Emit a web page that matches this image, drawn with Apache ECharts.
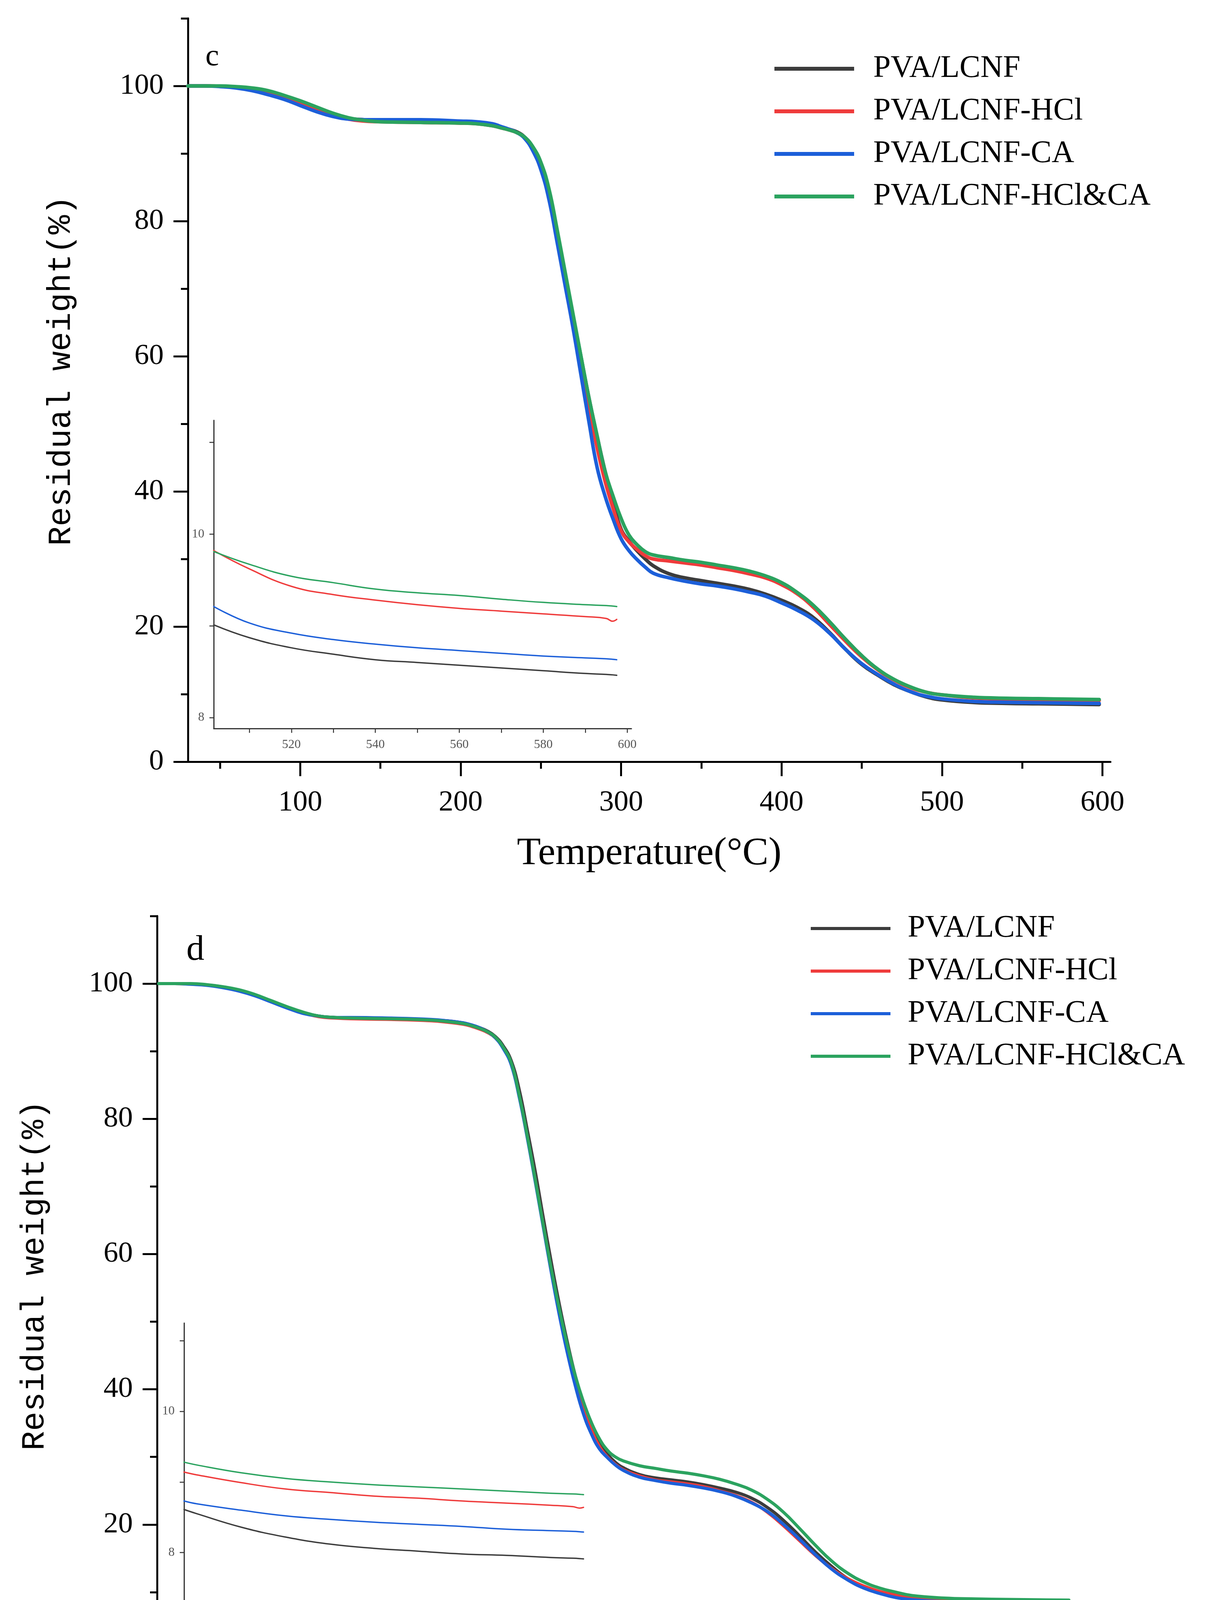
<!DOCTYPE html>
<html><head><meta charset="utf-8">
<script src="https://cdn.jsdelivr.net/npm/echarts@6/dist/echarts.min.js"></script>
<style>html,body{margin:0;padding:0;background:#fff}#c{width:3084px;height:4579px}</style>
</head><body><div id="c"></div>
<script>
const seriesNames = ['PVA/LCNF', 'PVA/LCNF-HCl', 'PVA/LCNF-CA', 'PVA/LCNF-HCl&CA'];
const colors = ['#3c3c3c', '#ef3b3b', '#1c5fd9', '#2ba35f'];

const temps = [30,40,50,60,70,80,90,100,110,120,130,140,150,175,200,210,220,225,230,235,240,245,250,255,260,265,270,275,280,285,290,295,300,305,310,315,320,330,340,350,360,370,380,390,400,410,420,430,440,450,460,470,480,490,500,520,540,560,580,598];

const cBlack = [100,100,99.95,99.8,99.5,99.0,98.3,97.5,96.6,95.8,95.2,95.0,94.9,94.8,94.6,94.5,94.2,93.9,93.6,93.2,92.4,90.9,88.5,84.4,78.4,72.2,66.0,59.9,53.8,48.2,43.0,38.3,34.4,32.6,31.2,30.0,29.0,27.8,27.2,26.8,26.4,26.0,25.5,24.8,23.9,22.8,21.3,19.1,16.6,14.4,12.8,11.4,10.4,9.6,9.15,8.76,8.63,8.57,8.51,8.46];
const cRed = [100,100,99.95,99.8,99.5,99.0,98.3,97.5,96.6,95.8,95.1,94.8,94.7,94.6,94.5,94.4,94.1,93.8,93.5,93.1,92.3,90.7,88.2,84.0,78.0,71.7,65.3,58.9,52.5,46.5,41.5,37.5,34.2,32.5,31.4,30.5,30.0,29.7,29.4,29.1,28.7,28.3,27.8,27.2,26.2,24.8,22.8,20.3,17.8,15.5,13.6,12.1,11.0,10.3,9.9,9.43,9.28,9.19,9.13,9.07];
const cBlue = [100,100,99.9,99.7,99.3,98.7,98.0,97.1,96.2,95.5,95.1,95.0,95.0,95.0,94.8,94.7,94.4,94.0,93.6,93.1,92.2,90.4,87.6,83.2,77.0,70.6,64.2,57.2,50.2,43.6,39.3,35.9,33.0,31.2,29.9,28.8,27.9,27.2,26.7,26.3,26.0,25.6,25.1,24.5,23.5,22.4,21.0,19.0,16.6,14.5,12.9,11.5,10.4,9.7,9.3,8.92,8.80,8.73,8.67,8.63];
const cGreen = [100,100,100,99.9,99.7,99.3,98.6,97.8,96.9,96.0,95.3,94.9,94.7,94.6,94.5,94.4,94.1,93.8,93.5,93.1,92.4,91.0,88.7,84.8,78.9,72.6,66.3,60.0,53.8,48.3,43.0,39.3,36.0,33.5,32.1,31.1,30.6,30.2,29.8,29.5,29.1,28.7,28.2,27.5,26.5,25.0,23.1,20.7,18.1,15.7,13.7,12.2,11.1,10.3,9.9,9.54,9.40,9.33,9.26,9.21];

const dBlack = [100,100,99.95,99.8,99.5,99.0,98.3,97.4,96.5,95.7,95.2,95.0,94.9,94.8,94.6,94.5,94.2,93.9,93.5,93.0,92.2,90.8,88.6,84.3,78.4,72.2,65.4,58.8,52.6,47.0,42.0,37.8,34.5,32.0,30.4,29.2,28.4,27.4,26.9,26.6,26.3,25.9,25.4,24.8,23.9,22.5,20.6,18.3,15.9,13.8,12.0,10.8,9.9,9.3,8.9,8.36,8.12,8.02,7.96,7.91];
const dRed = [100,100,99.95,99.8,99.5,99.0,98.3,97.4,96.5,95.7,95.1,94.9,94.8,94.7,94.5,94.3,94.0,93.7,93.3,92.8,92.0,90.5,88.2,83.4,77.4,71.0,64.3,57.7,51.6,46.1,41.2,37.2,34.0,31.6,30.0,28.9,28.1,27.2,26.6,26.3,26.0,25.6,25.0,24.3,23.3,21.8,19.8,17.6,15.4,13.5,12.0,10.9,10.1,9.6,9.3,8.99,8.85,8.77,8.70,8.64];
const dBlue = [100,100,99.9,99.75,99.4,98.9,98.2,97.3,96.4,95.6,95.2,95.0,95.0,94.9,94.7,94.5,94.2,93.9,93.5,92.9,92.0,90.4,88.0,83.2,77.2,70.7,64.0,57.3,51.0,45.4,40.5,36.4,33.4,31.2,29.9,28.8,28.0,27.0,26.5,26.1,25.8,25.4,24.9,24.2,23.2,21.9,20.0,17.8,15.5,13.4,11.8,10.6,9.8,9.2,8.9,8.60,8.47,8.40,8.33,8.29];
const dGreen = [100,100,100,99.85,99.55,99.1,98.4,97.5,96.6,95.8,95.2,95.0,94.9,94.8,94.6,94.4,94.1,93.8,93.4,92.9,92.1,90.6,88.3,83.5,77.5,71.0,64.3,57.8,51.9,46.6,42.0,38.2,35.1,32.7,31.0,30.0,29.4,28.7,28.3,27.9,27.6,27.2,26.7,26.0,25.1,23.7,21.8,19.4,16.9,14.6,12.8,11.5,10.6,10.0,9.5,9.13,9.00,8.93,8.87,8.82];

const insetTempsC = [501.5,510,520,530,540,550,560,570,580,590,595,596.5,597.5];
const insetCBlack = [9.01,8.87,8.76,8.69,8.63,8.60,8.57,8.54,8.51,8.48,8.47,8.465,8.46];
const insetCRed   = [9.82,9.62,9.43,9.34,9.28,9.23,9.19,9.16,9.13,9.10,9.08,9.05,9.07];
const insetCBlue  = [9.21,9.03,8.92,8.85,8.80,8.76,8.73,8.70,8.67,8.65,8.64,8.635,8.63];
const insetCGreen = [9.81,9.67,9.54,9.47,9.40,9.36,9.33,9.29,9.255,9.23,9.22,9.215,9.21];

const insetTempsD = [507.1,510,520,530,540,550,560,570,580,590,595,596.5,597.4];
const insetDBlack = [8.61,8.55,8.36,8.22,8.12,8.06,8.02,7.98,7.96,7.93,7.92,7.915,7.91];
const insetDRed   = [9.14,9.10,8.99,8.90,8.85,8.80,8.77,8.73,8.70,8.67,8.65,8.63,8.64];
const insetDBlue  = [8.73,8.69,8.60,8.52,8.47,8.43,8.40,8.37,8.33,8.31,8.30,8.295,8.29];
const insetDGreen = [9.28,9.24,9.13,9.05,9.00,8.96,8.93,8.90,8.87,8.84,8.83,8.825,8.82];

const mainXTicks = [100,200,300,400,500,600];
const mainXMinor = [50,150,250,350,450,550];
const mainYTicks = [0,20,40,60,80,100];
const mainYMinor = [10,30,50,70,90,110];
const insetXTicks = [510,520,530,540,550,560,570,580,590,600];
const insetXLabels = [520,540,560,580,600];
const insetYLabels = [8,10];
const insetCYTicks = [8,9,10,11];
const insetDYTicks = [7,8,9,10,11];

const serif = 'Liberation Serif';
const pairs = (t, v) => t.map((x, i) => [x, v[i]]);

function mainX(grid, min, max, gap) {
  return [{
    type: 'value', gridIndex: grid, min: min, max: max, position: 'bottom',
    name: 'Temperature(°C)', nameLocation: 'middle', nameGap: gap,
    nameTextStyle: { fontFamily: serif, fontSize: 100, color: '#000' },
    axisLine: { show: true, onZero: false, lineStyle: { color: '#000', width: 5 } },
    axisTick: { show: true, inside: false, length: 37, lineStyle: { color: '#000', width: 5 }, customValues: mainXTicks },
    axisLabel: { show: true, margin: 68, fontFamily: serif, fontSize: 75, color: '#000', customValues: mainXTicks },
    splitLine: { show: false }
  }, {
    type: 'value', gridIndex: grid, min: min, max: max, position: 'bottom',
    axisLine: { show: false },
    axisTick: { show: true, length: 18, lineStyle: { color: '#000', width: 5 }, customValues: mainXMinor },
    axisLabel: { show: false }, splitLine: { show: false }
  }];
}
function mainY(grid) {
  return [{
    type: 'value', gridIndex: grid, min: 0, max: 110, position: 'left',
    axisLine: { show: true, onZero: false, lineStyle: { color: '#000', width: 5 } },
    axisTick: { show: true, length: 37, lineStyle: { color: '#000', width: 5 }, customValues: mainYTicks },
    axisLabel: { show: true, margin: 62, fontFamily: serif, fontSize: 75, color: '#000', customValues: mainYTicks },
    splitLine: { show: false }
  }, {
    type: 'value', gridIndex: grid, min: 0, max: 110, position: 'left',
    axisLine: { show: false },
    axisTick: { show: true, length: 18, lineStyle: { color: '#000', width: 5 }, customValues: mainYMinor },
    axisLabel: { show: false }, splitLine: { show: false }
  }];
}
function insetX(grid, min, max) {
  return {
    type: 'value', gridIndex: grid, min: min, max: max, position: 'bottom',
    axisLine: { show: true, onZero: false, lineStyle: { color: '#333', width: 3 } },
    axisTick: { show: true, length: 11, lineStyle: { color: '#333', width: 2.5 }, customValues: insetXTicks },
    axisLabel: { show: true, margin: 26, fontFamily: serif, fontSize: 32, color: '#555', customValues: insetXLabels },
    splitLine: { show: false }
  };
}
function insetY(grid, min, max, ticks) {
  return {
    type: 'value', gridIndex: grid, min: min, max: max, position: 'left',
    axisLine: { show: true, onZero: false, lineStyle: { color: '#333', width: 3 } },
    axisTick: { show: true, length: 11, lineStyle: { color: '#333', width: 2.5 }, customValues: ticks },
    axisLabel: { show: true, margin: 24, fontFamily: serif, fontSize: 32, color: '#555', customValues: insetYLabels },
    splitLine: { show: false }
  };
}
function lineSeries(name, color, data, xi, yi, width) {
  return {
    type: 'line', name: name, xAxisIndex: xi, yAxisIndex: yi, data: data,
    showSymbol: false, symbol: 'none', smooth: 0.45,
    lineStyle: { color: color, width: width, cap: 'round', join: 'round' }, itemStyle: { color: color },
    silent: true
  };
}

const cMain = [cBlack, cRed, cBlue, cGreen];
const dMain = [dBlack, dRed, dBlue, dGreen];
const cInset = [insetCBlack, insetCRed, insetCBlue, insetCGreen];
const dInset = [insetDBlack, insetDRed, insetDBlue, insetDGreen];

const series = [];
seriesNames.forEach((n, i) => series.push(lineSeries(n, colors[i], pairs(temps, cMain[i]), 0, 0, 9)));
seriesNames.forEach((n, i) => series.push(lineSeries(n, colors[i], pairs(insetTempsC, cInset[i]), 2, 2, 3.5)));
seriesNames.forEach((n, i) => series.push(lineSeries(n, colors[i], pairs(temps, dMain[i]), 3, 3, 8)));
seriesNames.forEach((n, i) => series.push(lineSeries(n, colors[i], pairs(insetTempsD, dInset[i]), 5, 5, 3.5)));

function legendAt(left, top, padLeft, h) {
  return {
    data: seriesNames, orient: 'vertical', left: left, top: top,
    icon: 'rect', itemWidth: 204, itemHeight: h, itemGap: 29,
    selectedMode: false,
    textStyle: { fontFamily: serif, fontSize: 80, lineHeight: 80, color: '#000', padding: [0, 0, 0, padLeft] }
  };
}

function yName(x, y) {
  return {
    type: 'text', x: x, y: y, rotation: Math.PI / 2, silent: true,
    style: { text: 'Residual weight(%)', font: '83px "Liberation Mono"', fill: '#000',
      align: 'center', verticalAlign: 'middle', textAlign: 'center', textVerticalAlign: 'middle' }
  };
}
function panelLabel(t, x, y, size) {
  return {
    type: 'text', x: x, y: y, silent: true,
    style: { text: t, font: size + 'px "Liberation Serif"', fill: '#000',
      align: 'center', verticalAlign: 'middle', textAlign: 'center', textVerticalAlign: 'middle' }
  };
}

const option = {
  backgroundColor: '#ffffff',
  animation: false,
  textStyle: { fontFamily: serif },
  grid: [
    { left: 481, top: 47, width: 2361, height: 1903 },
    { left: 547, top: 1076, width: 1069, height: 789 },
    { left: 402, top: 2345, width: 2364, height: 1904 },
    { left: 471, top: 3387, width: 1071, height: 790 }
  ],
  xAxis: [].concat(mainX(0, 30, 605, 186), [insetX(1, 501.5, 601)], mainX(2, 29, 605.4, 191), [insetX(3, 507.1, 601.7)]),
  yAxis: [].concat(mainY(0), [insetY(1, 7.88, 11.24, insetCYTicks)], mainY(2), [insetY(3, 6.88, 11.25, insetDYTicks)]),
  legend: [legendAt(1977, 131, 44, 10), legendAt(2070, 2332, 39, 8)],
  graphic: [
    yName(157, 949),
    yName(89, 3265),
    panelLabel('c', 543, 147, 78),
    panelLabel('d', 500, 2433, 92)
  ],
  series: series
};

const chart = echarts.init(document.getElementById('c'), null, { renderer: 'canvas', width: 3084, height: 4579 });
chart.setOption(option);
</script>
</body></html>
